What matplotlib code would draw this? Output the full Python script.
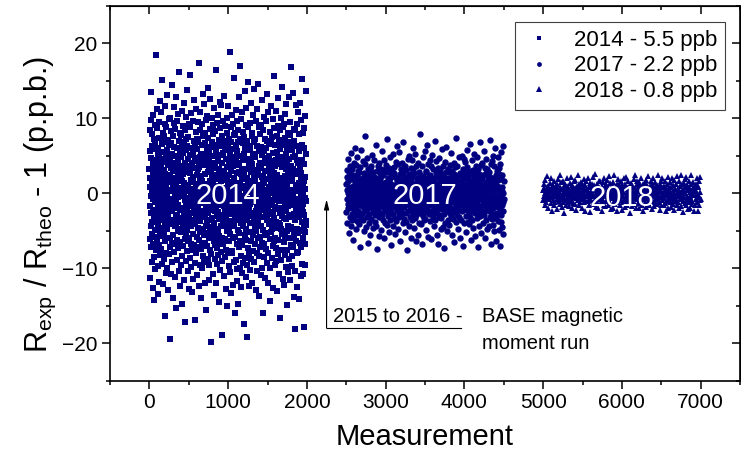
import numpy as np
import matplotlib
matplotlib.use("Agg")
import matplotlib.pyplot as plt

# --- data ---
labels = ["2014 - 5.5 ppb", "2017 - 2.2 ppb", "2018 - 0.8 ppb"]
years = ["2014", "2017", "2018"]
x_ranges = [(0, 1990), (2500, 4500), (5000, 7000)]

y2014 = [
    3.2,-6.1,8.4,-1.7,0.9,-11.3,5.6,2.1,-4.4,9.8,-0.3,-7.2,4.7,13.5,-2.6,1.4,-9.1,6.3,-3.8,0.2,
    -5.4,7.9,-12.6,2.8,-0.8,4.1,-6.7,10.4,-2.2,3.6,-8.5,0.6,5.9,-3.1,-14.2,7.3,1.8,-4.9,9.1,-1.2,
    2.4,-10.1,6.8,-0.5,3.9,-5.8,18.5,-2.9,4.4,-7.6,1.1,8.7,-3.4,-0.1,11.2,-6.3,2.7,-9.7,5.2,-1.9,
    0.7,6.1,-4.2,-13.4,3.3,9.5,-2.5,-6.9,1.6,4.8,-11.8,7.4,-0.9,2.2,-5.1,12.3,-3.6,0.4,-8.2,5.5,
    -2.8,3.7,-7.4,10.9,-1.4,-4.6,6.6,0.1,-9.4,2.9,15.1,-5.7,4.2,-0.6,-3.3,8.1,-12.1,1.3,6.9,-2.1,
    4.6,-8.8,1.9,-0.2,7.7,-5.3,3.1,-16.4,9.3,-1.1,2.6,-6.4,11.7,-3.9,0.8,5.1,-10.6,4.3,-2.7,-7.9,
    8.9,-0.4,-4.8,2.3,13.1,-9.9,5.8,-1.5,-3.2,7.1,0.5,-12.9,3.8,-6.0,1.7,9.9,-2.3,4.9,-8.1,-0.7,
    6.4,-3.7,-19.5,2.5,-5.9,10.1,-1.3,4.5,-7.1,0.3,8.3,-4.1,-10.8,3.4,-0.9,6.7,-2.4,14.4,-6.6,1.5,
    -1.8,5.3,-9.2,3.0,-3.5,7.6,-13.9,0.9,4.0,-5.5,2.0,11.5,-0.8,-7.8,6.2,-2.0,9.4,-4.3,1.0,-11.1,
    3.5,-6.8,0.0,8.6,-2.9,-15.3,5.0,1.2,-4.0,12.8,-1.0,3.9,-8.9,6.0,-3.0,0.6,-6.2,9.6,2.4,-5.0,
    -0.5,10.6,-7.3,4.4,-1.6,-3.8,16.2,-10.3,2.8,7.0,-4.7,0.2,5.7,-12.4,1.9,-2.2,8.0,-6.5,3.1,-0.2,
    7.8,-9.6,2.1,-1.9,4.9,-5.2,0.7,11.0,-3.3,-8.3,6.5,1.6,-14.7,3.6,-0.4,9.0,-4.5,2.6,-7.0,5.4,
    -3.6,1.4,-11.6,6.8,0.0,-2.5,12.0,-6.1,4.1,-0.9,8.5,-17.2,2.9,-4.2,5.8,-1.4,-9.0,7.2,0.3,-5.6,
    10.2,-2.0,3.3,-7.7,1.1,-4.9,6.3,13.8,-0.6,-10.4,4.6,-2.8,0.9,7.5,-6.4,-1.7,3.0,-12.7,9.3,-3.1,
    0.4,-5.9,8.8,-1.1,2.7,-8.6,5.1,-3.5,15.8,-0.3,-6.8,1.8,10.7,-4.4,3.7,-9.8,0.6,6.1,-2.6,-13.1,
    4.0,-0.7,-7.5,9.7,-3.9,1.5,-11.4,5.5,2.2,-5.4,0.1,12.5,-2.1,-6.9,7.0,-1.6,3.4,-9.3,4.7,-0.8,
    -4.1,6.6,-1.2,-16.9,8.2,0.8,-3.4,4.3,-8.0,11.3,-0.1,2.5,-5.8,7.3,-10.9,1.3,-2.7,5.9,-7.2,3.2,
    9.5,-1.5,-4.6,0.5,6.9,-12.3,3.5,-2.4,17.4,-6.2,1.0,-0.4,8.4,-9.5,4.8,-3.7,2.0,-5.1,10.8,-1.0,
    -7.4,2.3,5.2,-14.0,0.7,-3.0,9.2,-6.7,1.6,4.2,-10.0,6.4,-0.6,-4.8,13.3,-2.3,3.8,-8.4,0.2,7.7,
    -1.3,-5.6,11.9,-2.9,4.5,-9.1,0.9,6.7,-3.2,-12.0,2.6,8.1,-0.2,-6.6,5.3,-1.8,-15.6,3.9,-4.3,9.8,
    1.2,-7.0,4.4,-0.9,10.3,-3.8,-1.5,6.0,-8.7,2.9,-5.3,14.1,0.3,-2.6,7.4,-11.5,4.9,-0.7,-6.0,3.6,
    -9.6,5.7,-2.2,0.8,12.6,-4.5,1.7,-7.6,8.6,-1.0,-19.8,3.1,6.2,-3.6,0.0,-8.1,10.0,-5.0,2.3,-1.2,
    6.8,-3.3,-0.1,-10.7,4.1,9.1,-5.5,1.4,-2.0,7.9,-13.6,0.6,3.4,-6.3,11.4,-0.5,-4.0,5.0,-8.8,2.0,
    -2.4,8.3,-6.9,3.7,-1.9,-11.9,5.6,0.2,-4.7,16.5,-0.8,2.4,-9.4,6.5,-3.0,1.9,-7.3,9.4,-1.6,-5.2,
    4.3,-0.3,-8.2,10.5,-2.5,1.0,-14.5,7.1,-5.7,3.3,0.4,-3.4,12.2,-6.5,2.8,-1.1,8.7,-10.2,5.1,-0.6,
    -4.4,1.6,6.3,-7.8,-0.2,11.8,-2.9,4.0,-9.0,0.7,-5.9,7.6,-18.9,2.1,-1.4,5.4,-3.5,9.6,-6.8,0.1,
    3.0,-11.0,7.0,-1.7,-4.2,2.7,13.0,-8.5,0.5,5.8,-2.3,-6.1,9.0,-0.4,4.6,-12.8,1.8,-3.1,6.6,-7.5,
    -0.9,10.0,-5.0,2.2,-1.3,8.0,-15.0,3.5,-3.9,0.9,6.1,-7.9,1.2,11.6,-2.1,-4.6,4.2,-9.7,0.0,7.2,
    -6.3,2.5,-0.7,18.8,-3.7,-10.5,5.2,1.1,-5.4,8.9,-1.8,3.0,-13.3,6.9,-0.3,-2.8,4.7,-8.0,10.4,-4.1,
    1.5,-7.7,5.9,-2.2,0.3,-12.2,9.2,-0.9,3.6,-6.0,2.1,15.4,-4.3,-1.5,7.8,-9.2,0.8,4.5,-3.3,-16.0,
    8.1,-2.6,1.3,-5.8,11.1,-0.5,-8.9,4.9,-3.6,6.4,-1.0,-11.7,2.7,9.7,-6.7,0.6,-2.0,5.6,-10.1,3.8,
    -1.5,6.9,-4.9,0.4,-14.8,8.5,-2.4,2.9,-7.1,12.9,-0.1,-5.3,4.1,-9.9,1.4,7.3,-3.2,-0.6,17.0,-6.4,
    2.6,-8.3,5.0,-1.2,9.9,-4.0,-12.5,3.2,0.7,-6.9,10.9,-2.7,1.9,-10.6,6.7,-0.8,-4.4,8.2,-1.9,4.4,
    -9.3,0.9,7.5,-3.1,-17.5,5.3,-0.4,2.4,-5.6,13.6,-2.1,6.0,-8.6,1.0,-1.6,9.1,-11.2,3.3,-4.7,0.5,
    11.4,-6.2,2.0,-0.8,-19.2,7.0,-3.5,4.6,-9.5,1.7,-2.8,8.8,-5.1,0.2,14.8,-7.3,3.9,-1.1,-12.4,6.3,
    -2.1,5.8,-7.9,1.2,9.4,-4.0,0.3,-10.2,6.1,-1.4,3.5,-6.3,12.1,-0.7,2.8,-8.8,4.4,-3.0,7.6,-5.1,
    0.6,-11.9,3.9,8.0,-2.6,-5.5,1.5,10.5,-0.2,-7.7,5.3,-3.4,0.9,-9.1,6.9,2.1,-1.2,13.9,-4.5,-0.5,
    7.2,-3.9,1.8,-6.7,4.8,-0.6,-12.9,9.6,-2.3,3.1,-5.0,0.4,11.3,-8.0,2.5,-1.7,6.3,-10.4,1.0,-3.6,
    -6.0,2.9,-1.0,14.6,-4.4,0.7,-8.4,5.7,-2.9,8.8,-0.4,-13.7,3.6,-5.8,1.1,7.9,-2.2,-7.1,4.0,0.2,
    9.1,-0.9,-4.3,3.4,-10.9,6.2,-1.5,0.8,-6.6,12.4,-3.2,2.2,-9.9,5.1,-0.1,-4.9,8.5,-2.0,1.7,-15.9,
    2.3,-6.8,5.6,-0.3,-3.1,10.2,-8.5,1.4,4.7,-1.9,-11.3,7.3,0.0,-5.6,3.0,9.7,-2.7,-0.8,6.0,-7.4,
    -1.1,4.1,-9.3,0.5,7.0,-3.5,13.2,-5.3,1.9,-0.6,-7.9,4.6,-2.4,10.8,-1.3,-12.0,3.2,6.6,-4.1,0.9,
    5.0,-2.8,0.1,-14.3,8.2,-0.9,2.6,-6.1,4.3,-10.0,1.2,6.8,-3.7,0.6,-5.2,11.6,-1.6,3.8,-8.6,2.0,
    -4.8,7.5,-1.4,3.3,-7.0,0.2,9.9,-2.5,-12.6,5.4,1.6,-4.0,8.7,-0.9,-6.4,2.7,15.6,-3.3,0.4,-9.5,
    3.7,-0.2,-5.9,6.4,-1.8,-9.0,1.3,11.0,-3.8,4.5,-7.3,0.7,-2.1,7.7,-13.0,2.4,5.5,-0.5,-4.6,9.0,
    -8.1,1.8,4.9,-2.0,12.7,-6.2,0.0,-3.9,7.1,-1.0,-10.7,3.9,-0.6,5.9,-4.2,1.5,-16.7,8.4,-2.6,0.6,
    6.5,-4.7,2.0,-0.7,-8.9,10.0,-1.9,3.5,-5.4,0.8,14.2,-3.0,-7.6,4.2,-0.2,6.7,-11.4,1.2,-2.4,8.9,
    -0.4,-6.5,9.3,-3.3,1.7,-12.2,4.8,-0.8,7.4,-5.7,2.3,-1.5,10.6,-8.2,0.3,-3.4,5.2,-9.8,3.3,-1.1,
    11.9,-2.2,-5.0,0.9,6.1,-7.5,1.0,-14.9,4.0,-0.3,8.1,-4.3,2.9,-10.5,6.8,-1.7,-3.0,12.9,-6.0,0.5,
    -3.2,4.6,-8.7,2.5,-0.5,9.5,-5.9,1.6,-11.6,7.8,-1.3,3.6,-6.9,0.1,16.8,-4.5,2.1,-8.3,5.8,-2.9,
    1.9,-9.7,6.6,-1.6,3.2,-4.7,0.5,13.4,-7.2,-0.1,4.9,-2.7,-13.8,8.6,-0.8,2.7,-5.5,7.0,-3.5,-18.1,
    8.4,-1.2,-3.6,5.0,-10.3,1.1,6.3,-0.7,-6.3,11.8,-2.1,0.7,-8.0,4.4,-1.5,9.2,-4.8,2.6,-12.5,3.0,
    -5.3,0.3,10.9,-2.3,-7.8,4.1,-0.9,7.9,-3.1,1.4,-14.1,5.7,-1.0,-5.0,3.4,12.0,-6.6,0.8,-2.8,6.2,
    2.7,-7.1,-0.3,9.8,-4.9,2.0,-11.0,6.5,-1.7,-3.8,15.3,-0.4,4.5,-9.4,1.3,-6.0,8.0,-2.5,0.0,-10.8,
    -1.4,6.0,-4.4,1.6,-17.8,8.7,-2.9,3.9,-6.8,0.6,10.3,-5.2,2.2,-0.6,-9.6,5.3,-3.7,13.6,-1.0,-4.2,
]

y2017 = [
    1.2,-2.5,0.4,3.1,-0.8,-3.9,2.2,-1.4,4.6,0.0,-2.0,1.7,-5.3,2.8,-0.3,0.9,-1.9,3.6,-3.2,0.5,
    -1.1,2.6,-4.4,0.7,1.9,-0.6,5.4,-2.7,0.2,-1.6,3.3,-3.5,1.0,-0.1,2.4,-6.2,0.8,-2.2,4.0,-0.9,
    0.3,-3.0,1.5,-1.3,6.1,-0.4,2.0,-4.8,0.6,3.8,-1.8,-0.2,1.3,-2.9,4.9,-0.7,-3.7,2.5,0.1,-1.5,
    3.0,-0.5,-2.3,1.1,-4.1,0.9,2.9,-1.0,-7.1,1.8,0.4,-2.6,3.5,-0.8,1.6,-3.3,0.0,5.8,-1.7,2.1,
    -2.8,0.6,1.4,-0.3,-3.6,4.3,-1.2,0.8,2.7,-5.0,-0.6,1.9,-1.9,3.9,0.2,-2.4,7.6,-0.9,1.2,-4.5,
    0.9,-1.4,2.3,-3.1,0.5,1.0,-2.1,4.7,-0.2,-1.1,3.2,-6.6,1.7,-0.5,2.6,-2.7,0.3,-4.0,1.5,3.4,
    -0.7,2.0,-5.6,0.1,3.7,-1.6,1.1,-3.4,0.6,-0.9,5.1,-2.0,2.4,-1.3,0.0,-4.6,2.9,1.3,-2.5,0.7,
    4.4,-0.1,-1.8,2.2,-3.8,0.4,1.6,-0.6,-2.9,6.5,-1.0,0.3,-4.3,2.1,-0.4,3.0,-1.5,-7.4,0.9,1.8,
    -2.2,3.6,0.5,-1.2,1.2,-3.2,4.1,-0.8,-5.7,2.7,0.0,-1.7,1.9,-2.6,3.3,0.6,-0.3,-4.9,2.3,-1.0,
    1.0,-2.9,5.6,-0.4,-1.5,0.8,-3.5,2.5,-0.1,1.4,-6.0,3.1,-1.9,0.2,4.5,-2.3,0.7,-0.9,2.8,-3.9,
    -0.6,1.5,-2.4,3.8,0.3,-4.2,1.0,-1.1,7.2,-0.5,2.0,-3.0,0.4,-1.4,2.9,-5.2,1.6,-0.2,3.4,-2.1,
    0.1,-3.6,2.1,-0.7,4.8,-1.8,0.6,-2.5,1.3,-6.9,3.0,-0.3,-1.6,2.4,0.9,-4.4,5.2,-1.0,0.5,-2.8,
    2.7,-1.3,-0.2,3.5,-3.3,1.1,-5.4,0.8,2.2,-0.8,-2.0,4.2,-1.2,0.0,-3.7,1.7,6.3,-2.2,0.4,-1.6,
    -4.7,0.6,2.0,-1.5,0.2,3.9,-2.7,1.4,-0.5,-3.1,5.5,-0.9,1.8,-6.4,0.7,2.6,-1.1,-2.4,3.2,0.3,
    -1.9,4.0,-0.4,1.6,-2.8,0.5,-4.0,2.8,-1.0,6.8,-0.6,1.2,-3.4,0.1,2.3,-1.8,-5.1,3.7,0.8,-0.2,
    1.7,-2.6,0.9,-0.1,3.1,-3.8,1.5,-7.5,0.3,2.0,-1.4,4.6,-2.3,0.6,-0.7,1.9,-4.3,2.4,-1.2,5.0,
    -0.3,-3.1,2.6,0.7,-1.7,1.3,-2.2,3.4,-5.9,0.4,1.8,-0.9,4.4,-3.6,0.0,2.2,-1.3,-0.5,6.0,-2.7,
    3.3,-0.8,-4.6,1.2,0.2,-2.0,2.7,-1.1,0.8,-3.3,5.3,-0.4,1.1,-2.9,3.6,-6.3,0.5,1.5,-1.6,-0.1,
    -2.4,2.1,0.6,-5.5,1.9,-0.6,4.1,-1.9,-0.2,2.9,-3.9,0.9,-1.4,7.9,-0.7,2.5,-2.6,0.1,-4.1,1.6,
    0.4,-1.2,3.7,-2.3,-0.5,1.0,-6.8,2.3,0.6,-1.7,4.9,-3.0,1.4,-0.3,2.0,-1.0,-3.5,5.7,-0.8,0.9,
    -3.4,1.6,-0.9,2.8,0.0,-4.9,3.0,-1.5,1.7,-2.1,0.5,6.4,-2.5,0.8,-1.3,3.9,-5.8,1.1,-0.4,2.2,
    1.3,-0.7,-2.8,4.5,-1.6,0.3,2.4,-3.7,0.7,-0.2,-6.1,1.8,3.6,-1.1,0.4,-2.4,5.1,-0.6,-3.2,1.0,
    -1.0,3.2,0.2,-1.9,-4.4,2.0,-0.3,1.5,-2.6,7.0,-0.8,0.6,-3.5,2.7,1.2,-1.4,-0.1,4.3,-5.5,0.3,
    2.5,-2.2,1.0,-0.5,3.4,-6.7,0.9,-1.3,2.1,-3.1,0.1,4.7,-1.8,-0.4,1.6,-2.9,3.1,-0.7,0.5,-4.8,
    -0.2,1.9,-3.3,0.7,5.9,-1.0,-2.1,2.6,-0.6,1.3,-4.5,0.0,3.7,-1.6,-7.3,2.2,0.6,-2.7,1.4,-0.9,
    4.2,-1.5,0.4,-3.9,1.1,2.8,-0.8,-2.3,6.2,-0.1,1.7,-5.0,0.8,-1.2,3.3,-2.0,0.2,-3.6,2.0,0.6,
    -1.7,0.9,2.9,-4.2,-0.3,1.5,-1.9,3.8,-2.6,0.4,-0.7,5.4,-3.0,1.2,-5.6,0.5,2.3,-1.1,-0.4,3.0,
    0.7,-2.5,-0.6,1.8,-3.4,4.0,-1.2,0.3,2.6,-6.5,1.0,-0.9,-2.0,3.5,0.6,-1.7,7.4,-3.8,1.3,-0.2,
    -2.9,2.2,0.5,-1.0,3.7,-4.7,0.9,1.6,-0.5,-2.2,4.8,-1.4,0.0,2.5,-3.2,1.1,-5.9,0.7,-1.6,2.7,
    1.4,-0.4,-3.6,2.4,0.2,-1.5,5.0,-2.4,0.8,-0.9,3.2,-7.0,1.9,-1.3,0.3,2.1,-4.0,4.6,-0.7,-2.1,
    -0.8,2.6,-1.6,0.4,4.2,-3.0,1.2,-0.3,-5.2,2.0,0.7,-2.2,3.5,-1.0,-0.4,5.8,-3.8,1.0,-1.5,2.9,
    0.2,-4.1,1.8,-0.9,2.4,-2.7,6.6,-0.6,0.9,-3.2,1.4,-1.2,-6.2,3.0,0.5,-2.0,4.4,-0.2,1.7,-3.5,
    -1.3,3.1,0.0,-2.4,1.0,-4.6,2.3,-0.5,5.3,-1.8,0.6,-0.9,2.8,-5.7,1.5,-2.6,0.3,3.6,-1.4,-0.1,
    2.2,-0.7,-3.3,4.9,-1.2,0.8,-2.1,1.6,-7.2,0.4,3.3,-1.9,0.1,-4.3,2.6,-0.4,1.1,6.9,-2.8,0.7,
    -3.0,1.3,-0.6,2.1,-1.7,-5.3,3.8,0.9,-0.8,1.9,-2.5,4.1,-1.1,0.2,-3.9,2.5,-0.2,-1.6,5.6,-2.3,
    0.6,-2.9,3.4,-0.1,1.3,-6.0,0.8,-1.4,2.7,-3.6,0.0,4.6,-2.0,1.5,-0.7,-4.8,3.2,-1.1,0.5,2.0,
    -1.9,0.4,-4.4,2.9,-0.3,1.7,-2.3,7.1,-1.5,0.9,-3.1,2.2,-0.5,-6.8,1.0,3.9,-2.5,0.3,-1.0,4.3,
    1.6,-3.4,0.2,-1.7,5.0,-2.0,0.7,-4.2,2.1,-0.6,1.2,-5.0,3.7,-1.3,0.4,-2.8,6.1,-0.9,-3.3,1.1,
    -0.5,2.4,-6.4,1.0,-1.2,3.0,-2.6,0.6,4.8,-3.7,1.8,-0.2,-1.8,2.6,-4.9,0.9,-0.6,3.4,-2.1,-7.0,
    3.9,-1.0,0.5,-2.9,1.9,-0.4,-3.8,5.5,-1.6,0.3,2.5,-4.5,0.8,-1.1,6.3,-2.4,0.1,-5.4,1.6,-0.8,
]

y2018 = [
    0.4,-0.9,1.2,-0.3,0.7,-1.5,0.1,1.8,-0.6,0.2,-1.1,0.9,-0.2,2.3,-0.8,0.5,-1.9,1.0,-0.4,0.0,
    -0.7,1.4,-0.1,0.6,-1.3,0.3,2.0,-0.5,-2.4,0.8,-0.2,1.1,-0.9,0.4,1.6,-1.6,0.0,0.7,-0.3,-1.2,
    1.0,-0.4,0.2,-2.1,1.3,-0.8,0.5,-0.1,1.9,-1.0,0.3,-0.6,2.5,-1.4,0.1,0.9,-0.7,-0.2,1.5,-1.8,
    -0.3,0.6,-1.2,1.7,0.0,-0.5,0.8,-2.6,0.4,1.2,-0.9,0.2,-1.5,0.7,-0.1,2.1,-0.6,1.0,-1.1,0.3,
    0.9,-1.7,0.1,-0.4,1.4,-0.2,-1.0,2.2,0.5,-0.8,0.0,1.1,-2.0,0.6,-0.3,0.8,-1.3,1.6,-0.5,0.2,
    -1.4,0.7,1.8,-0.6,0.3,-2.2,1.0,-0.1,0.4,-0.9,2.4,-0.4,0.6,-1.6,1.2,-0.2,0.9,-1.1,0.0,1.5,
    -0.8,0.2,-0.5,1.3,-1.9,0.6,-0.2,0.9,-1.2,1.9,0.1,-0.7,1.1,-2.3,0.4,-0.3,1.7,-1.0,0.5,-0.1,
    0.6,-1.0,2.0,-0.3,0.1,-1.6,0.8,-0.6,1.4,-0.2,-2.5,0.9,0.3,-0.9,1.2,-0.4,0.0,2.2,-1.3,0.7,
    -0.2,1.1,-1.4,0.4,-0.7,2.6,-0.1,0.5,-1.8,0.8,-0.5,1.3,-1.1,0.2,0.6,-2.0,1.6,-0.3,0.9,-0.8,
    1.7,-0.6,0.3,-1.2,0.0,1.0,-2.3,0.7,-0.4,1.5,-0.9,0.1,2.1,-1.5,0.4,-0.2,0.8,-1.7,1.2,-0.1,
    -1.0,0.5,-0.3,1.8,-1.6,0.2,0.9,-0.7,2.3,-0.4,0.6,-1.3,0.0,1.4,-2.1,0.3,-0.6,1.1,-0.2,0.8,
    0.1,-1.9,1.5,-0.5,0.7,-1.0,2.4,-0.2,-1.4,0.4,1.0,-0.8,0.2,-2.4,1.3,-0.1,0.6,-1.2,1.9,-0.4,
    -0.6,1.2,-0.2,0.3,-1.5,0.9,-0.9,1.7,0.0,-2.2,0.5,1.1,-0.3,0.8,-1.1,2.0,-0.7,0.2,-1.8,0.6,
    1.3,-0.3,-1.2,0.6,2.2,-0.8,0.1,-1.6,0.9,-0.1,1.6,-1.0,0.4,-0.5,-2.6,1.0,0.3,-0.9,1.4,-0.2,
    -0.4,0.8,-1.7,1.1,-0.1,0.5,-1.1,1.9,-0.6,0.2,-1.4,0.7,2.5,-0.3,0.0,-1.9,1.2,-0.7,0.4,1.6,
    -1.3,0.3,0.9,-0.5,1.5,-2.0,0.6,-0.2,1.0,-1.2,0.1,2.1,-0.8,0.4,-1.5,0.8,-0.4,1.3,-2.3,0.2,
    0.7,-0.7,1.4,-1.1,0.2,-0.3,1.8,-1.8,0.5,-0.6,1.1,-0.1,-1.3,2.3,0.0,-0.9,0.6,-1.6,1.0,-0.2,
    -0.5,1.6,-0.9,0.1,-2.1,1.2,-0.4,0.7,-1.0,2.0,-0.2,0.4,-1.7,0.9,0.3,-1.2,1.5,-0.6,-0.1,0.8,
    1.1,-1.4,0.0,0.6,-0.8,2.4,-1.1,0.3,-0.3,1.3,-2.2,0.5,0.9,-0.5,1.7,-1.5,0.2,-0.9,2.0,-0.4,
    -0.1,0.9,-1.6,1.0,-0.6,0.4,-1.3,1.6,0.1,-2.4,0.7,-0.2,1.2,-1.0,0.3,-0.7,2.2,-1.9,0.5,-0.3,
    0.8,-1.1,0.2,1.5,-0.5,-1.8,0.9,-0.2,2.1,-0.9,0.4,-1.4,1.1,-0.6,0.0,-2.2,1.8,-0.3,0.6,-1.0,
    -0.4,1.3,-0.8,0.1,-1.5,2.3,-0.1,0.7,-1.2,0.3,1.6,-2.0,0.5,-0.7,1.0,-0.3,-1.7,2.4,-0.6,0.2,
    1.2,-0.2,-1.0,0.6,-2.5,1.4,-0.5,0.3,1.9,-1.3,0.0,0.8,-0.9,2.2,-1.6,0.4,-0.4,1.1,-2.1,0.5,
    -0.6,0.9,1.7,-1.1,0.2,-0.3,-1.9,1.2,-0.7,0.5,2.5,-1.0,0.1,-1.4,0.7,-0.2,1.5,-2.3,0.4,0.9,
    0.3,-1.6,0.6,-0.1,1.3,-0.8,2.0,-1.2,0.0,-0.5,1.0,-2.4,0.8,-0.3,1.6,-1.5,0.2,-0.9,2.2,-0.7,
]


def main():
    plt.rcParams["font.family"] = ["Liberation Sans", "DejaVu Sans"]
    navy = "#000080"

    fig = plt.figure(figsize=(7.41, 4.59), dpi=100)
    ax = fig.add_axes([110 / 741, 1 - 380.7 / 459, 630 / 741, 374.7 / 459])

    series = [y2014, y2017, y2018]
    markers = ["s", "o", "^"]
    sizes = [4.2, 4.6, 5.0]
    for (x0, x1), ys, mk, ms, lab in zip(x_ranges, series, markers, sizes, labels):
        xs = np.linspace(x0, x1, len(ys))
        ax.plot(xs, ys, linestyle="none", marker=mk, markersize=ms,
                markeredgewidth=0, color=navy, label=lab)

    # white year labels on top of the clouds
    for (x0, x1), yr, yy in zip(x_ranges, years, [-0.3, -0.4, -0.6]):
        ax.text((x0 + x1) / 2, yy, yr, color="white", fontsize=21,
                ha="center", va="center", zorder=5)

    # 2015-2016 gap annotation
    ax.annotate("", xy=(2250, -0.8), xytext=(2250, -18.0),
                arrowprops=dict(arrowstyle="-|>,head_length=0.6,head_width=0.15",
                                lw=0.8, color="black", shrinkA=0, shrinkB=0))
    ax.plot([2250, 3960], [-18.0, -18.0], color="black", lw=0.8)
    ax.text(2330, -16.4, "2015 to 2016 -", fontsize=14.5, ha="left", va="center")
    ax.text(4230, -16.4, "BASE magnetic", fontsize=14.5, ha="left", va="center")
    ax.text(4230, -20.1, "moment run", fontsize=14.5, ha="left", va="center")

    ax.set_xlim(-500, 7500)
    ax.set_ylim(-25, 25)
    ax.set_xticks(range(0, 7001, 1000))
    ax.set_xticks(range(-500, 7501, 500), minor=True)
    ax.set_yticks([-20, -10, 0, 10, 20])
    ax.set_yticks(range(-25, 26, 5), minor=True)

    for sp in ax.spines.values():
        sp.set_linewidth(1.2)
    ax.tick_params(which="both", direction="out", width=1.1, labelsize=15,
                   top=False, right=False)
    ax.tick_params(which="major", length=5.5)
    ax.tick_params(which="minor", length=3)

    # inward ticks on the top and right sides
    axt = ax.secondary_xaxis("top")
    axt.set_xticks(range(0, 7001, 1000))
    axt.set_xticks(range(-500, 7501, 500), minor=True)
    axt.tick_params(which="both", direction="in", width=1.1, labeltop=False)
    axt.tick_params(which="major", length=5.5)
    axt.tick_params(which="minor", length=3)
    axr = ax.secondary_yaxis("right")
    axr.set_yticks([-20, -10, 0, 10, 20])
    axr.set_yticks(range(-25, 26, 5), minor=True)
    axr.tick_params(which="both", direction="in", width=1.1, labelright=False)
    axr.tick_params(which="major", length=5.5)
    axr.tick_params(which="minor", length=3)

    ax.set_xlabel("Measurement", fontsize=21, labelpad=8)
    ax.set_ylabel(r"R$_\mathregular{exp}$ / R$_\mathregular{theo}$ - 1 (p.p.b.)",
                  fontsize=22)
    ax.yaxis.set_label_coords(-0.083, 0.47)

    leg = ax.legend(loc="upper right", bbox_to_anchor=(0.976, 0.957),
                    borderaxespad=0, fontsize=16, markerscale=0.75,
                    handlelength=1.5, handletextpad=0.8, labelspacing=0.2,
                    borderpad=0.35, fancybox=False, framealpha=1)
    leg.get_frame().set_edgecolor("#404040")
    leg.get_frame().set_linewidth(0.8)

    fig.savefig("out.png", dpi=100)
    print("Saved -> out.png")


if __name__ == "__main__":
    main()
